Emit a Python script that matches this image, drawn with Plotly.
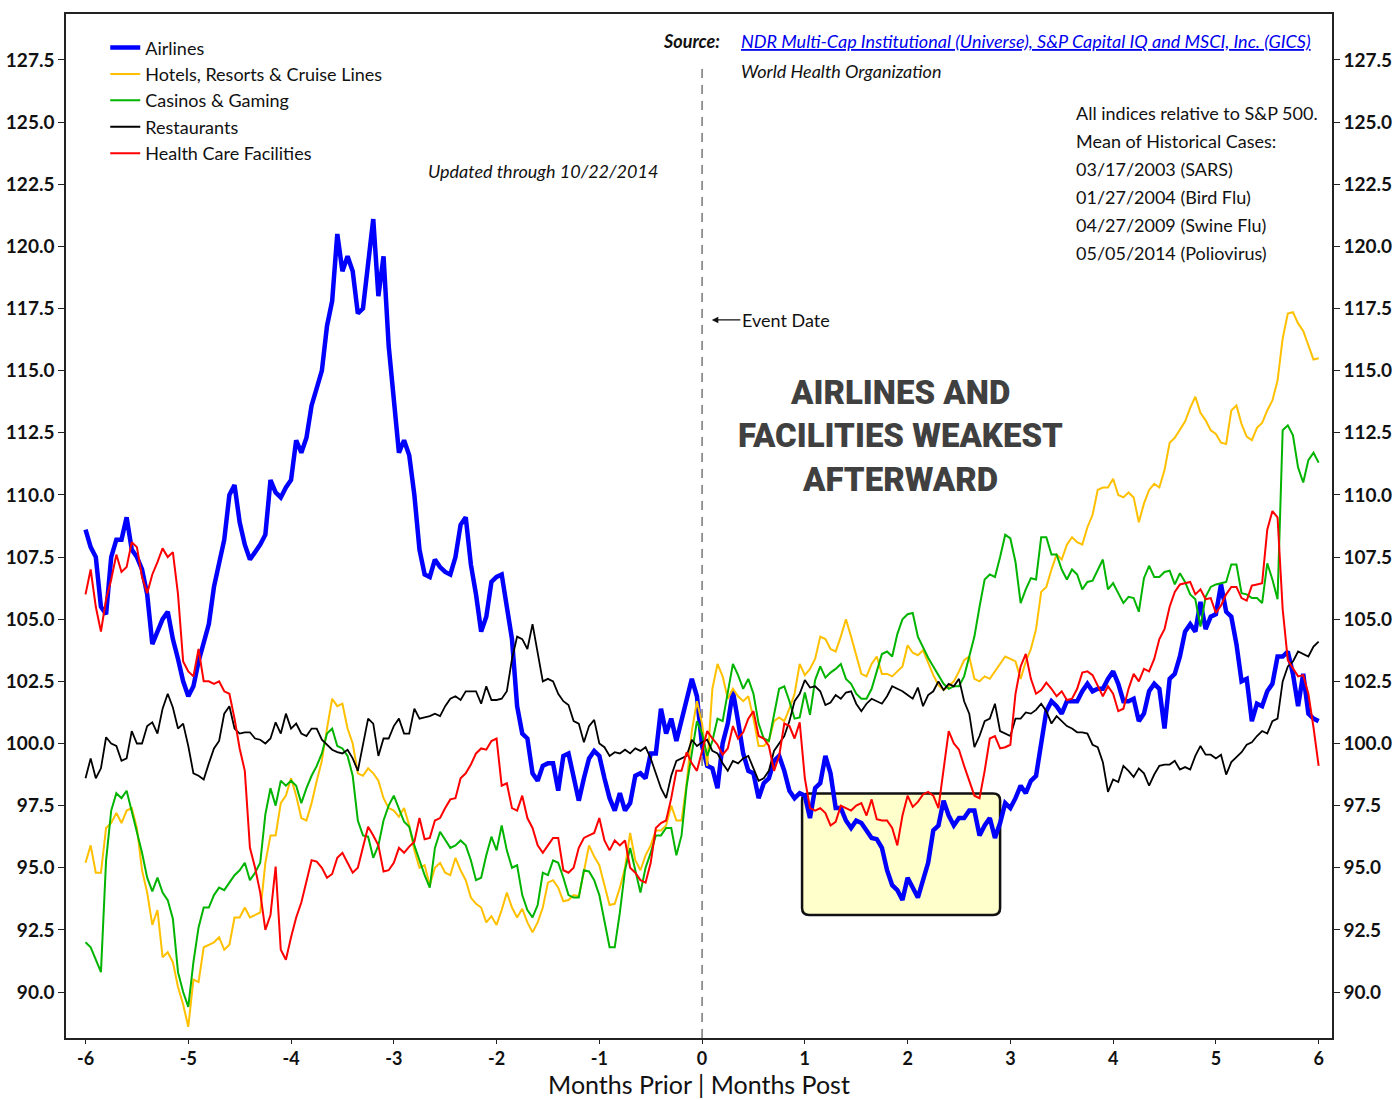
import numpy as np
import plotly.graph_objects as go

# months relative to the event date (sampled every 0.05 month)
months = np.round(np.arange(241) * 0.05 - 6, 2)

airlines = [
    108.6,107.9,107.5,105.5,105.2,107.5,108.2,108.2,109.1,107.8,107.5,107.0,106.0,104.0,104.5,105.0,105.3,104.2,103.4,102.5,
    101.9,102.3,103.3,104.1,104.8,106.3,107.2,108.2,110.0,110.4,108.9,108.0,107.4,107.7,108.0,108.4,110.6,110.1,109.9,110.3,
    110.6,112.2,111.7,112.3,113.6,114.3,115.0,116.8,117.8,120.5,119.0,119.6,119.0,117.3,117.5,119.3,121.1,118.0,119.6,116.0,
    113.8,111.7,112.2,111.6,110.0,107.8,106.8,106.7,107.4,107.1,106.9,106.8,107.5,108.8,109.1,107.2,106.0,104.5,105.1,106.5,
    106.7,106.8,105.5,104.2,101.5,100.4,100.2,98.8,98.5,99.1,99.2,99.2,98.1,99.5,99.6,98.6,97.7,98.6,99.4,99.7,
    99.5,98.6,97.8,97.3,98.0,97.3,97.6,98.7,98.8,98.6,99.6,99.6,101.4,100.4,101.0,100.1,101.0,101.8,102.6,101.9,
    99.9,99.1,99.0,98.2,100.0,100.8,102.1,100.9,99.6,98.9,98.8,97.8,98.4,98.6,99.3,99.5,98.9,98.1,97.8,98.0,
    97.9,97.0,98.2,98.4,99.5,98.8,97.4,97.4,96.9,96.6,96.9,96.8,96.5,96.2,96.15,95.8,94.9,94.3,94.1,93.7,
    94.6,94.2,93.8,94.5,95.2,96.5,96.7,97.7,97.1,96.7,97.0,97.0,97.3,97.3,96.3,96.7,97.0,96.2,96.8,97.6,
    97.4,97.8,98.3,98.0,98.5,98.7,100.1,101.3,101.7,101.5,101.2,101.7,101.7,101.7,102.1,102.4,102.1,102.2,102.2,102.6,
    102.9,102.4,101.7,101.7,101.8,100.9,101.2,102.1,102.4,102.2,100.6,102.6,102.8,103.5,104.5,104.8,104.5,105.7,104.6,105.1,
    105.2,106.4,105.3,105.1,104.0,102.5,102.6,100.9,101.6,101.5,102.1,102.4,103.5,103.5,103.7,102.8,101.5,102.8,101.2,101.0,100.9,
]

hotels = [
    95.2,95.9,94.8,94.8,96.6,96.8,97.2,96.8,97.3,97.4,96.6,94.9,94.0,92.7,93.3,91.4,91.6,91.2,90.2,89.5,
    88.6,90.5,90.4,91.8,91.9,92.0,92.2,91.7,91.9,93.0,93.0,93.4,93.0,93.1,93.2,95.2,96.3,96.3,97.6,97.9,
    98.6,97.9,97.0,96.9,97.6,98.5,99.3,100.6,101.8,101.5,101.6,100.6,100.0,98.8,98.7,99.0,98.8,98.5,97.8,97.4,
    97.3,97.05,97.4,96.7,95.7,95.0,95.1,94.3,95.0,95.2,94.8,94.7,95.4,94.9,94.5,93.8,93.55,93.4,92.8,93.05,
    92.7,93.3,94.0,93.4,93.0,93.35,92.8,92.4,92.8,93.4,94.4,94.5,94.2,93.65,93.7,93.9,93.85,94.85,95.9,95.45,
    95.1,94.3,93.5,93.55,94.2,95.0,96.4,95.3,94.9,95.5,95.9,96.5,96.5,96.7,97.5,96.9,96.9,98.4,100.5,101.7,
    100.8,99.1,102.2,103.2,102.7,101.8,102.2,101.9,101.7,101.9,101.0,99.9,99.9,100.1,100.9,101.05,100.9,101.4,102.0,103.2,
    102.75,103.0,103.4,104.3,104.2,103.8,103.7,104.3,105.0,104.3,103.5,102.8,102.7,103.2,103.5,102.8,102.8,102.7,102.9,103.1,
    103.95,103.65,103.55,103.75,103.25,102.75,102.35,102.15,102.3,102.5,102.9,103.35,103.5,102.6,102.5,102.7,102.6,102.9,103.2,103.5,
    103.4,103.3,102.6,103.3,103.8,104.6,106.1,106.3,107.0,107.6,107.4,108.0,108.3,108.1,108.0,108.7,109.2,110.2,110.3,110.3,
    110.65,110.0,109.9,110.1,109.9,108.9,109.65,110.2,110.45,110.3,111.0,112.1,112.3,112.6,112.95,113.5,113.95,113.3,113.0,112.6,
    112.45,112.1,112.05,113.4,113.6,112.85,112.35,112.2,112.7,112.9,113.4,113.8,114.6,116.3,117.3,117.35,116.9,116.6,116.0,115.45,115.5,
]

casinos = [
    92.0,91.8,91.3,90.8,95.3,97.3,98.0,97.8,98.1,97.3,96.4,95.6,94.6,94.05,94.6,94.0,93.7,92.95,90.8,90.0,
    89.4,91.2,92.6,93.4,93.4,93.9,94.2,94.1,94.4,94.7,94.9,95.2,94.5,94.8,95.2,97.15,98.2,97.5,98.5,98.3,
    98.5,98.3,97.6,98.2,98.7,99.1,99.6,100.4,100.6,99.9,99.8,99.5,98.7,96.9,96.3,96.25,95.4,95.9,96.9,97.5,
    97.9,97.4,96.85,96.65,95.9,95.3,94.7,94.2,95.8,96.45,96.1,95.8,95.9,96.1,95.9,95.3,94.5,94.6,95.5,96.25,
    95.7,96.7,95.7,95.0,95.1,93.9,93.3,93.0,93.5,94.8,94.7,95.3,95.2,94.6,93.9,93.8,93.8,94.9,94.85,94.5,
    93.9,92.9,91.8,91.8,93.2,94.9,95.8,94.9,94.0,95.0,95.6,96.3,96.3,96.6,96.6,95.5,96.3,98.3,99.7,100.9,
    100.4,99.5,100.1,101.0,100.9,102.0,103.2,102.75,102.2,102.6,102.0,100.8,100.2,100.1,101.2,102.2,102.3,101.7,101.0,101.05,
    102.05,101.15,102.55,103.1,102.65,102.85,103.0,103.2,102.6,102.4,102.0,101.8,101.8,102.2,102.9,103.6,103.7,103.5,104.4,105.0,
    105.2,105.25,104.3,103.85,103.45,103.1,102.75,102.4,102.2,102.3,102.3,102.7,103.5,104.3,105.5,106.6,106.8,106.7,107.5,108.4,
    108.25,107.3,105.65,106.2,106.65,106.6,108.3,108.3,107.6,107.6,107.0,106.6,107.0,106.8,106.2,106.5,106.55,107.0,107.4,106.2,
    106.45,106.05,105.65,105.9,105.85,105.3,106.65,107.15,106.7,106.7,106.9,106.95,106.4,106.85,106.5,106.0,105.8,104.7,105.9,106.3,
    106.4,106.45,106.5,107.2,107.2,106.05,106.0,105.85,105.85,105.65,107.25,106.6,105.8,112.6,112.8,112.4,111.1,110.5,111.4,111.7,111.3,
]

restaurants = [
    98.6,99.4,98.6,99.0,100.25,100.0,99.9,99.3,99.4,100.5,100.0,100.0,100.7,100.85,100.4,101.4,102.0,101.45,100.6,100.8,
    99.9,98.8,98.7,98.55,99.2,99.8,100.1,101.2,101.5,100.6,100.4,100.45,100.45,100.2,100.15,100.0,100.2,100.85,100.4,101.2,
    100.6,100.8,100.4,100.3,100.6,100.6,100.15,99.95,99.75,99.65,99.6,99.75,99.4,98.9,100.0,101.0,100.8,99.5,100.2,100.2,
    100.7,101.0,100.4,100.4,101.4,101.0,101.05,101.1,101.2,101.1,101.5,101.8,101.9,101.75,102.1,102.1,102.1,101.6,102.3,101.75,
    101.75,101.8,102.1,103.4,104.3,104.2,103.8,104.8,103.6,102.5,102.6,102.5,102.0,101.7,101.55,100.9,100.8,100.05,100.7,100.95,
    100.0,99.85,99.5,99.65,99.6,99.75,99.6,99.8,99.7,99.85,99.4,98.8,98.2,97.8,98.7,99.3,99.4,99.5,100.15,99.9,
    100.05,100.15,99.7,99.6,99.2,98.9,99.3,99.2,99.4,99.5,99.0,98.5,98.6,98.9,99.7,100.0,100.3,100.9,101.7,102.0,
    102.55,102.25,102.3,102.1,101.55,101.65,101.95,101.8,102.05,102.1,101.6,101.3,101.6,101.8,101.7,101.6,101.9,102.3,102.2,102.1,
    101.95,101.8,102.25,101.5,101.95,102.1,102.5,102.15,102.4,102.3,102.6,101.7,101.2,99.85,100.3,100.9,101.0,101.6,100.5,100.4,
    100.3,101.0,101.0,101.25,101.2,101.35,101.6,101.3,100.8,101.1,100.9,100.7,100.6,100.45,100.45,100.4,99.95,99.85,99.25,98.05,
    98.55,98.45,99.1,98.9,98.65,99.0,98.8,98.3,98.75,99.1,99.15,99.15,99.3,98.95,99.05,98.95,99.5,99.9,99.55,99.55,
    99.4,99.55,98.75,99.25,99.45,99.65,99.95,100.05,100.3,100.5,100.4,100.9,101.0,102.5,103.1,103.3,103.7,103.6,103.5,103.9,104.1,
]

health_care = [
    106.0,107.0,105.5,104.5,105.8,106.6,107.6,106.9,107.1,108.1,107.9,106.7,106.05,106.8,107.3,107.85,107.5,107.7,106.0,103.3,
    102.9,102.7,103.8,102.5,102.5,102.4,102.5,102.1,102.0,101.0,99.8,98.9,95.8,95.0,94.0,92.5,93.1,95.05,91.7,91.3,
    92.2,93.0,93.6,94.4,95.3,95.25,95.0,94.6,94.75,95.4,95.6,95.2,94.8,95.0,95.8,96.65,96.3,95.9,94.85,94.9,
    95.2,95.8,95.6,95.85,96.05,97.0,96.15,96.2,96.9,97.0,97.4,97.75,97.8,98.6,98.8,99.15,99.6,99.8,99.75,100.1,
    100.2,98.3,98.4,97.4,97.3,97.9,97.0,96.6,95.9,95.6,95.9,96.2,96.2,94.9,94.8,95.0,95.8,96.2,96.3,96.4,
    97.0,96.1,95.7,96.1,95.9,96.1,95.0,94.8,94.5,94.4,95.2,96.6,96.8,96.9,97.8,98.9,98.9,99.65,99.2,98.9,
    99.7,100.5,100.2,99.95,99.55,99.8,100.7,100.2,100.45,101.0,101.3,100.3,100.2,99.9,98.9,99.5,100.8,100.7,100.2,100.85,
    98.6,97.4,97.3,97.4,97.2,96.7,96.85,97.5,97.4,97.3,97.5,97.6,97.1,97.75,96.95,96.9,96.9,96.6,95.9,97.1,
    97.9,97.45,97.65,97.95,98.05,97.9,97.4,99.0,100.5,100.0,99.75,99.1,98.5,97.9,97.8,98.9,100.2,100.3,99.8,99.85,
    99.95,102.0,103.1,103.6,102.6,102.0,102.15,102.45,102.2,101.9,102.1,101.75,101.8,102.2,102.85,102.9,102.75,102.3,101.9,102.3,
    102.0,101.3,101.4,102.2,102.8,102.5,103.0,102.9,103.4,104.2,104.6,105.5,106.1,106.4,106.45,106.5,106.0,106.2,105.8,105.85,
    105.25,105.55,106.0,106.3,106.3,105.85,105.75,106.35,106.4,106.45,108.6,109.35,109.1,105.4,103.35,103.05,102.7,102.75,102.0,100.65,99.1,
]

series = [
    ("Airlines", airlines, "#0000FF", 4.5),
    ("Hotels, Resorts & Cruise Lines", hotels, "#FFC000", 2),
    ("Casinos & Gaming", casinos, "#00B400", 2),
    ("Restaurants", restaurants, "#000000", 1.8),
    ("Health Care Facilities", health_care, "#FF0000", 2),
]

y_ticks = [90 + 2.5 * i for i in range(16)]
x_ticks = list(range(-6, 7))
X_RANGE = [-6.19, 6.13]
Y_RANGE = [88.15, 129.35]

FONT = "Lato"

fig = go.Figure()
for name, vals, color, width in series:
    fig.add_trace(go.Scatter(x=months, y=vals, mode="lines", name=name,
                             line=dict(color=color, width=width)))
# empty trace to anchor the mirrored right axis
fig.add_trace(go.Scatter(x=[None], y=[None], yaxis="y2", showlegend=False, hoverinfo="skip"))

# highlight box (rounded corners)
bx0, bx1, by0, by1 = 0.973, 2.90, 93.1, 97.99
rx, ry = 0.068, 0.28
path = (f"M {bx0+rx},{by0} L {bx1-rx},{by0} Q {bx1},{by0} {bx1},{by0+ry} "
        f"L {bx1},{by1-ry} Q {bx1},{by1} {bx1-rx},{by1} L {bx0+rx},{by1} "
        f"Q {bx0},{by1} {bx0},{by1-ry} L {bx0},{by0+ry} Q {bx0},{by0} {bx0+rx},{by0} Z")
fig.add_shape(type="path", path=path, xref="x", yref="y", layer="below",
              fillcolor="#FFFFCC", line=dict(color="#111111", width=2.5))
fig.add_shape(type="line", x0=0, x1=0, y0=Y_RANGE[0], y1=127.3, xref="x", yref="y",
              layer="below", line=dict(color="#777777", width=1.5, dash="9px,7px"))

ann = []
txt = dict(family=FONT, size=18, color="#111111")
ann.append(dict(x=0.195, y=128.26, xref="x", yref="y", text="<b><i>Source:</i></b>",
                showarrow=False, xanchor="right", yanchor="middle", font=txt))
ann.append(dict(x=0.36, y=128.26, xref="x", yref="y",
                text="<i><u>NDR Multi-Cap Institutional (Universe), S&amp;P Capital IQ and MSCI, Inc. (GICS)</u></i>",
                showarrow=False, xanchor="left", yanchor="middle",
                font=dict(family=FONT, size=18, color="#0000EE")))
ann.append(dict(x=0.36, y=127.06, xref="x", yref="y", text="<i>World Health Organization</i>",
                showarrow=False, xanchor="left", yanchor="middle", font=txt))
ann.append(dict(x=-0.409, y=123.03, xref="x", yref="y", text="<i>Updated through 10/22/2014</i>",
                showarrow=False, xanchor="right", yanchor="middle", font=txt))
info = ["All indices relative to S&amp;P 500.", "Mean of Historical Cases:",
        "03/17/2003 (SARS)", "01/27/2004 (Bird Flu)", "04/27/2009 (Swine Flu)",
        "05/05/2014 (Poliovirus)"]
for i, line in enumerate(info):
    ann.append(dict(x=3.62, y=125.37 - i * 1.127, xref="x", yref="y", text=line,
                    showarrow=False, xanchor="left", yanchor="middle", font=txt))
ann.append(dict(x=0.095, y=117.04, xref="x", yref="y", text="Event Date",
                showarrow=True, arrowhead=2, arrowsize=1, arrowwidth=1.3, arrowcolor="#111111",
                ax=74, ay=0, standoff=0, font=txt))
for i, line in enumerate(["AIRLINES AND", "FACILITIES WEAKEST", "AFTERWARD"]):
    ann.append(dict(x=1.927, y=114.14 - i * 1.75, xref="x", yref="y", text=line,
                    showarrow=False, xanchor="center", yanchor="middle",
                    font=dict(family="Roboto", size=33, color="#404040", weight=900)))

axis_common = dict(showline=True, linecolor="#222222", linewidth=1.5, ticks="outside",
                   tickcolor="#222222", showgrid=False, zeroline=False)
tickfont = dict(family=FONT, size=19, color="#111111", weight="bold")

fig.update_layout(
    width=1395, height=1100,
    margin=dict(l=66, r=63, t=14, b=62),
    paper_bgcolor="white", plot_bgcolor="white",
    xaxis=dict(range=X_RANGE, tickvals=x_ticks, ticktext=[str(v) for v in x_ticks],
               mirror=True, tickfont=dict(family=FONT, size=18, color="#111111", weight="bold"),
               automargin=False, ticklen=4,
               title=dict(text="Months Prior | Months Post", standoff=6,
                          font=dict(family=FONT, size=25, color="#111111")),
               **axis_common),
    yaxis=dict(range=Y_RANGE, tickvals=y_ticks, tickformat=".1f", tickfont=tickfont,
               automargin=False, ticklen=6, **axis_common),
    yaxis2=dict(range=Y_RANGE, tickvals=y_ticks, tickformat=".1f", tickfont=tickfont,
                overlaying="y", side="right", automargin=False, ticklen=6, **axis_common),
    legend=dict(x=0.031, y=0.985, xanchor="left", yanchor="top", bgcolor="rgba(0,0,0,0)",
                font=dict(family=FONT, size=18, color="#111111"), tracegroupgap=0),
    annotations=ann,
    showlegend=True,
)

fig.write_html("out.html", config={"displayModeBar": False},
               post_script="document.body.style.margin='0';document.body.style.overflow='hidden';")
